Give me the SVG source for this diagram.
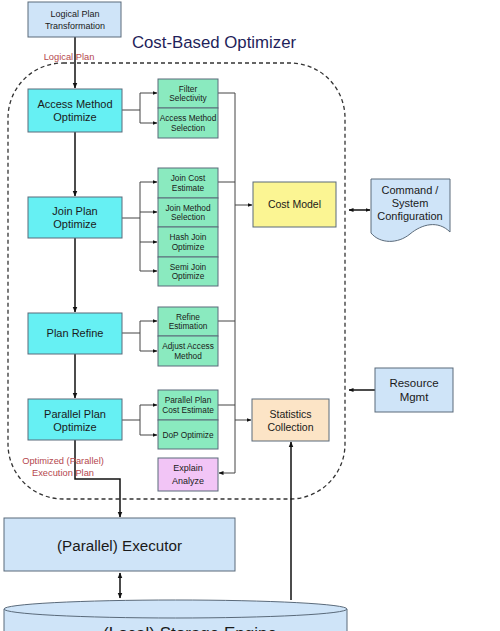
<svg xmlns="http://www.w3.org/2000/svg" width="500" height="631" viewBox="0 0 500 631">
<defs>
<marker id="ah" viewBox="0 0 10 10" refX="9" refY="5" markerWidth="6" markerHeight="6" orient="auto-start-reverse" markerUnits="userSpaceOnUse">
<path d="M0,1 L10,5 L0,9 Z" fill="#111"/>
</marker>
<marker id="ahs" viewBox="0 0 10 10" refX="9" refY="5" markerWidth="5" markerHeight="5" orient="auto-start-reverse" markerUnits="userSpaceOnUse">
<path d="M0,1 L10,5 L0,9 Z" fill="#111"/>
</marker>
<style>
text{font-family:"Liberation Sans",Arial,sans-serif;fill:#1a1a1a;text-anchor:middle}
.box{stroke:#5a6a7a;stroke-width:1}
.cyan{fill:#66f0f3}
.green{fill:#8aeabf}
.blue{fill:#cfe4f8}
.t11{font-size:11px}
.t8{font-size:8.3px}
.red{fill:#b5474e;font-size:9.3px}
.main{stroke:#111;stroke-width:1.5;fill:none}
.thin{stroke:#444;stroke-width:1;fill:none}
</style>
</defs>
<rect width="500" height="631" fill="#ffffff"/>

<g id="optimizer-boundary">
<rect x="8" y="63" width="337" height="436" rx="55" ry="55" fill="none" stroke="#333" stroke-width="1.3" stroke-dasharray="4,3"/>
<text x="214" y="48" style="font-size:16.8px;fill:#1f1f5a">Cost-Based Optimizer</text>
</g>

<g id="connectors">
<line class="main" x1="75" y1="37" x2="75" y2="88" marker-end="url(#ah)"/>
<line class="main" x1="75" y1="132" x2="75" y2="196" marker-end="url(#ah)"/>
<line class="main" x1="75" y1="238" x2="75" y2="312" marker-end="url(#ah)"/>
<line class="main" x1="75" y1="354" x2="75" y2="398" marker-end="url(#ah)"/>
<path class="main" d="M75,440 V479 H120 V517" marker-end="url(#ah)"/>
<line class="main" x1="120" y1="573" x2="120" y2="598" marker-start="url(#ah)" marker-end="url(#ah)"/>
<line class="main" x1="291" y1="600" x2="291" y2="442" marker-end="url(#ah)"/>
<line class="main" x1="349" y1="210" x2="370" y2="210" marker-start="url(#ahs)" marker-end="url(#ahs)"/>
<line class="main" x1="375" y1="390" x2="349" y2="390" marker-end="url(#ahs)"/>
<path class="thin" d="M122,110 H140 M140,93 V123"/>
<line class="thin" x1="140" y1="93" x2="157" y2="93" marker-end="url(#ahs)"/>
<line class="thin" x1="140" y1="123" x2="157" y2="123" marker-end="url(#ahs)"/>
<path class="thin" d="M122,218 H140 M140,182 V271"/>
<line class="thin" x1="140" y1="182" x2="157" y2="182" marker-end="url(#ahs)"/>
<line class="thin" x1="140" y1="212" x2="157" y2="212" marker-end="url(#ahs)"/>
<line class="thin" x1="140" y1="242" x2="157" y2="242" marker-end="url(#ahs)"/>
<line class="thin" x1="140" y1="271" x2="157" y2="271" marker-end="url(#ahs)"/>
<path class="thin" d="M122,333 H140 M140,321 V351"/>
<line class="thin" x1="140" y1="321" x2="157" y2="321" marker-end="url(#ahs)"/>
<line class="thin" x1="140" y1="351" x2="157" y2="351" marker-end="url(#ahs)"/>
<path class="thin" d="M122,420 H140 M140,405 V435"/>
<line class="thin" x1="140" y1="405" x2="157" y2="405" marker-end="url(#ahs)"/>
<line class="thin" x1="140" y1="435" x2="157" y2="435" marker-end="url(#ahs)"/>
<path class="thin" d="M218,93 H235 V473 M218,182 H235 M218,321 H235 M218,405 H235"/>
<line class="thin" x1="235" y1="205" x2="252" y2="205" marker-end="url(#ahs)"/>
<line class="thin" x1="235" y1="420" x2="251" y2="420" marker-end="url(#ahs)"/>
<line class="thin" x1="235" y1="473" x2="219" y2="473" marker-end="url(#ahs)"/>
<text x="69" y="60" class="red">Logical Plan</text>
<text x="63" y="464" class="red">Optimized (Parallel)</text>
<text x="63" y="476" class="red">Execution Plan</text>
</g>

<g id="logical-plan-transformation">
<rect class="box blue" x="28" y="2" width="93" height="35"/>
<text x="75" y="17" style="font-size:9px">Logical Plan</text>
<text x="75" y="29" style="font-size:9px">Transformation</text>
</g>

<g id="access-method-optimize">
<rect class="box cyan" x="28" y="89" width="94" height="43"/>
<text x="75" y="108" class="t11">Access Method</text>
<text x="75" y="121" class="t11">Optimize</text>
</g>
<g id="join-plan-optimize">
<rect class="box cyan" x="28" y="197" width="94" height="41"/>
<text x="75" y="215" class="t11">Join Plan</text>
<text x="75" y="228" class="t11">Optimize</text>
</g>
<g id="plan-refine">
<rect class="box cyan" x="28" y="313" width="94" height="41"/>
<text x="75" y="337" class="t11">Plan Refine</text>
</g>
<g id="parallel-plan-optimize">
<rect class="box cyan" x="28" y="399" width="94" height="41"/>
<text x="75" y="418" class="t11">Parallel Plan</text>
<text x="75" y="431" class="t11">Optimize</text>
</g>

<g id="filter-selectivity">
<rect class="box green" x="158" y="79" width="60" height="29"/>
<text x="188" y="92" class="t8">Filter</text>
<text x="188" y="101" class="t8">Selectivity</text>
</g>
<g id="access-method-selection">
<rect class="box green" x="158" y="108" width="60" height="30"/>
<text x="188" y="121" class="t8">Access Method</text>
<text x="188" y="131" class="t8">Selection</text>
</g>
<g id="join-cost-estimate">
<rect class="box green" x="158" y="168" width="60" height="30"/>
<text x="188" y="181" class="t8">Join Cost</text>
<text x="188" y="191" class="t8">Estimate</text>
</g>
<g id="join-method-selection">
<rect class="box green" x="158" y="198" width="60" height="29"/>
<text x="188" y="211" class="t8">Join Method</text>
<text x="188" y="220" class="t8">Selection</text>
</g>
<g id="hash-join-optimize">
<rect class="box green" x="158" y="227" width="60" height="30"/>
<text x="188" y="240" class="t8">Hash Join</text>
<text x="188" y="250" class="t8">Optimize</text>
</g>
<g id="semi-join-optimize">
<rect class="box green" x="158" y="257" width="60" height="29"/>
<text x="188" y="270" class="t8">Semi Join</text>
<text x="188" y="279" class="t8">Optimize</text>
</g>
<g id="refine-estimation">
<rect class="box green" x="158" y="307" width="60" height="29"/>
<text x="188" y="320" class="t8">Refine</text>
<text x="188" y="329" class="t8">Estimation</text>
</g>
<g id="adjust-access-method">
<rect class="box green" x="158" y="336" width="60" height="30"/>
<text x="188" y="349" class="t8">Adjust Access</text>
<text x="188" y="359" class="t8">Method</text>
</g>
<g id="parallel-plan-cost-estimate">
<rect class="box green" x="158" y="390" width="60" height="30"/>
<text x="188" y="403" class="t8">Parallel Plan</text>
<text x="188" y="413" class="t8">Cost Estimate</text>
</g>
<g id="dop-optimize">
<rect class="box green" x="158" y="420" width="60" height="29"/>
<text x="188" y="438" class="t8">DoP Optimize</text>
</g>
<g id="explain-analyze">
<rect class="box" x="158" y="458" width="60" height="33" fill="#f2c5f6"/>
<text x="188" y="471" style="font-size:9px">Explain</text>
<text x="188" y="484" style="font-size:9px">Analyze</text>
</g>

<g id="cost-model">
<rect class="box" x="253" y="182" width="83" height="45" fill="#fbf593"/>
<text x="294.5" y="208" style="font-size:10.5px">Cost Model</text>
</g>
<g id="statistics-collection">
<rect class="box" x="252" y="399" width="77" height="42" fill="#fce4c6"/>
<text x="290.5" y="418" style="font-size:10.5px">Statistics</text>
<text x="290.5" y="431" style="font-size:10.5px">Collection</text>
</g>

<g id="command-system-configuration">
<path class="box" fill="#cfe4f8" d="M371,179 H450 V232 C438,220 422,224 410,234 C398,244 380,244 371,233 Z"/>
<text x="410" y="194" style="font-size:11px">Command /</text>
<text x="410" y="207" style="font-size:11px">System</text>
<text x="410" y="220" style="font-size:11px">Configuration</text>
</g>
<g id="resource-mgmt">
<rect class="box blue" x="375" y="368" width="78" height="44"/>
<text x="414" y="387" style="font-size:11.5px">Resource</text>
<text x="414" y="401" style="font-size:11.5px">Mgmt</text>
</g>

<g id="parallel-executor">
<rect class="box blue" x="4" y="518" width="231" height="53"/>
<text x="119.5" y="551" style="font-size:15.2px">(Parallel) Executor</text>
</g>

<g id="storage-engine">
<path class="box" fill="#cfe4f8" d="M4,609 V640 H347 V609"/>
<ellipse class="box" cx="175.5" cy="609" rx="171.5" ry="9" fill="#cfe4f8"/>
<text x="190" y="639" style="font-size:17px">(Local) Storage Engine</text>
</g>
</svg>
